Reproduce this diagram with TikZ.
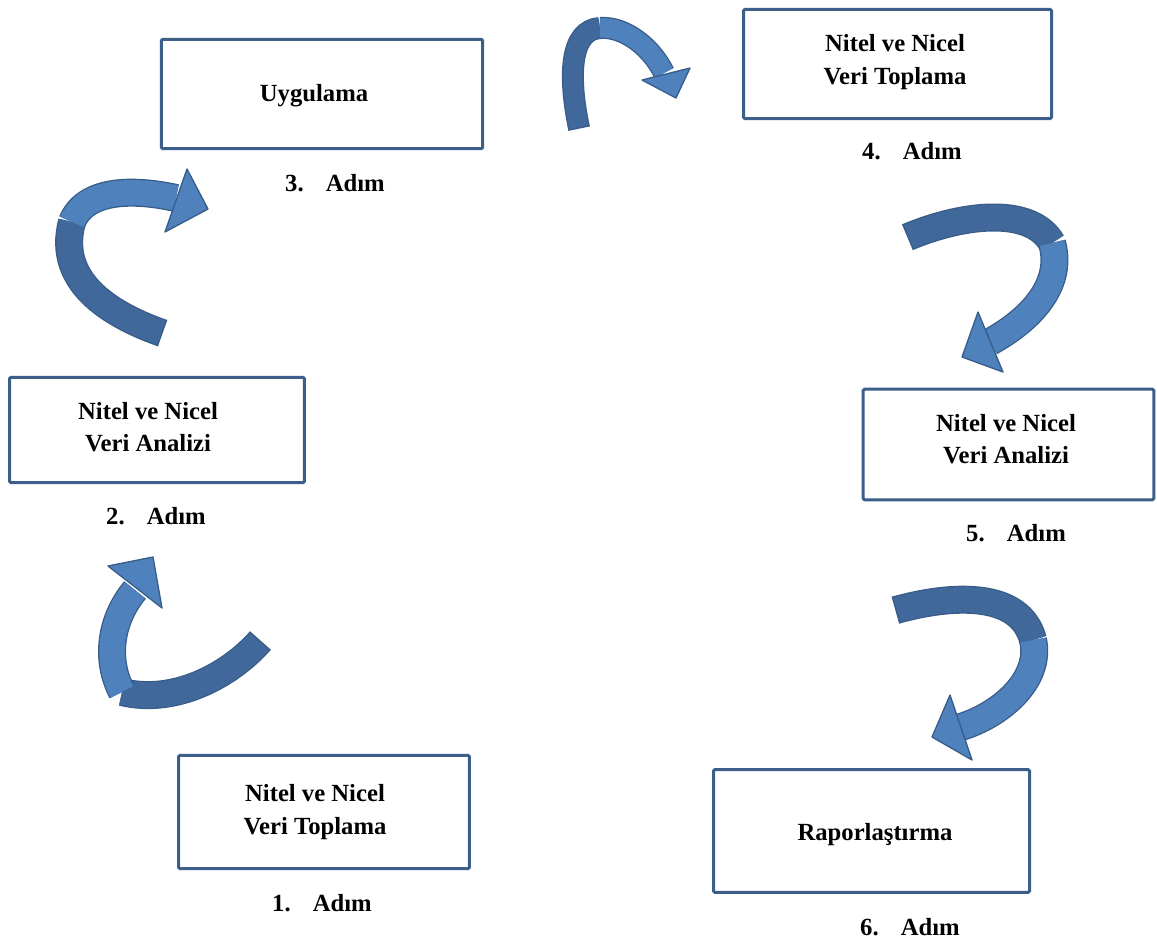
\documentclass[tikz,border=0pt]{standalone}
\usepackage{fontspec}
\setmainfont{Liberation Serif}
\usetikzlibrary{calc}
\definecolor{boxline}{HTML}{3C5F8A}
\definecolor{arrowline}{HTML}{385D8A}
\definecolor{arrowfront}{HTML}{4F81BD}
\definecolor{arrowback}{HTML}{40689A}
\newcommand\adimtext[1]{#1.\hspace{0.9em}Adım}
\tikzset{
  stepbox/.style={rectangle, draw=boxline, line width=2.25pt, rounded corners=1pt, inner sep=0pt},
  steptext/.style={align=center, font=\bfseries\fontsize{18.5}{24.5}\selectfont},
  steplabel/.style={font=\bfseries\fontsize{18.5}{24.5}\selectfont},
  ribbon/.style={draw=arrowline, line width=1pt, double distance=19pt},
  thinribbon/.style={draw=arrowline, line width=1pt, double distance=14.5pt},
  headshape/.style={fill=arrowfront, draw=arrowline, line width=1pt, line join=round}
}

\begin{document}
\begin{tikzpicture}[x=0.75pt,y=-0.75pt]
\useasboundingbox (0,0) rectangle (1157,940);

% boxes
\node[stepbox, minimum width=241pt, minimum height=82pt](b3) at (322,94){};
\node[stepbox, minimum width=231pt, minimum height=82pt](b4) at (897.5,64){};
\node[stepbox, minimum width=221pt, minimum height=79pt](b2) at (157,430){};
\node[stepbox, minimum width=218pt, minimum height=83pt](b5) at (1008.5,444.5){};
\node[stepbox, minimum width=218pt, minimum height=85pt](b1) at (324,812){};
\node[stepbox, minimum width=237pt, minimum height=92pt](b6) at (871.5,831){};

\node[steptext](t3) at (314,96){Uygulama};
\node[steptext](t4) at (895,62){Nitel ve Nicel\\Veri Toplama};
\node[steptext](t2) at (148,427){Nitel ve Nicel\\Veri Analizi};
\node[steptext](t5) at (1006,439){Nitel ve Nicel\\Veri Analizi};
\node[steptext](t1) at (315,812){Nitel ve Nicel\\Veri Toplama};
\node[steptext](t6) at (875,835){Raporlaştırma};

% step labels
\node[steplabel](l1) at (322,903){\adimtext{1}};
\node[steplabel](l2) at (156,516){\adimtext{2}};
\node[steplabel](l3) at (335,183){\adimtext{3}};
\node[steplabel](l4) at (912,151){\adimtext{4}};
\node[steplabel](l5) at (1016,533){\adimtext{5}};
\node[steplabel](l6) at (910,927){\adimtext{6}};

% arrow 1 -> 2
\coordinate (a1t) at (260,641);
\coordinate (a1c) at (230,675);
\coordinate (a1m) at (122,692);
\coordinate (a1h) at (135,590);
\draw[ribbon, double=arrowback] (a1t) .. controls (a1c) and (175,705) .. (a1m);
\draw[arrowline, line width=1pt] ($(a1t)!10.5pt!90:(a1c)$) -- ($(a1t)!10.5pt!-90:(a1c)$);
\draw[ribbon, double=arrowfront] (a1m) .. controls (105,660) and (110,620) .. (a1h);
\filldraw[headshape] (108,566) -- (153,557) -- (162,608) -- cycle;

% arrow 2 -> 3
\coordinate (a2t) at (162,333);
\coordinate (a2c) at (117,317);
\coordinate (a2m) at (72,222);
\coordinate (a2h) at (176,198);
\draw[ribbon, double=arrowback] (a2t) .. controls (a2c) and (55,285) .. (a2m);
\draw[arrowline, line width=1pt] ($(a2t)!10.5pt!90:(a2c)$) -- ($(a2t)!10.5pt!-90:(a2c)$);
\draw[ribbon, double=arrowfront] (a2m) .. controls (85,190) and (130,188) .. (a2h);
\filldraw[headshape] (187,169) -- (208,209) -- (165,232) -- cycle;

% arrow 3 -> 4
\coordinate (a3t) at (579,128);
\coordinate (a3c) at (568,75);
\coordinate (a3m) at (600,28);
\coordinate (a3h) at (664,73);
\draw[thinribbon, double=arrowback] (a3t) .. controls (a3c) and (570,30) .. (a3m);
\draw[arrowline, line width=1pt] ($(a3t)!8.25pt!90:(a3c)$) -- ($(a3t)!8.25pt!-90:(a3c)$);
\draw[thinribbon, double=arrowfront] (a3m) .. controls (625,26) and (652,48) .. (a3h);
\filldraw[headshape] (642,80) -- (676,98) -- (690,68) -- cycle;

% arrow 4 -> 5
\coordinate (a4t) at (908,237);
\coordinate (a4c) at (960,215);
\coordinate (a4m) at (1052,243);
\coordinate (a4h) at (990,342);
\draw[ribbon, double=arrowback] (a4t) .. controls (a4c) and (1030,205) .. (a4m);
\draw[arrowline, line width=1pt] ($(a4t)!10.5pt!90:(a4c)$) -- ($(a4t)!10.5pt!-90:(a4c)$);
\draw[ribbon, double=arrowfront] (a4m) .. controls (1064,285) and (1030,320) .. (a4h);
\filldraw[headshape] (978,312) -- (962,357) -- (1003,372) -- cycle;

% arrow 5 -> 6
\coordinate (a5t) at (896,610);
\coordinate (a5c) at (950,595);
\coordinate (a5m) at (1033,640);
\coordinate (a5h) at (961,727);
\draw[ribbon, double=arrowback] (a5t) .. controls (a5c) and (1020,590) .. (a5m);
\draw[arrowline, line width=1pt] ($(a5t)!10.5pt!90:(a5c)$) -- ($(a5t)!10.5pt!-90:(a5c)$);
\draw[ribbon, double=arrowfront] (a5m) .. controls (1042,680) and (1000,715) .. (a5h);
\filldraw[headshape] (950,695) -- (932,737) -- (972,760) -- cycle;
\end{tikzpicture}
\end{document}
